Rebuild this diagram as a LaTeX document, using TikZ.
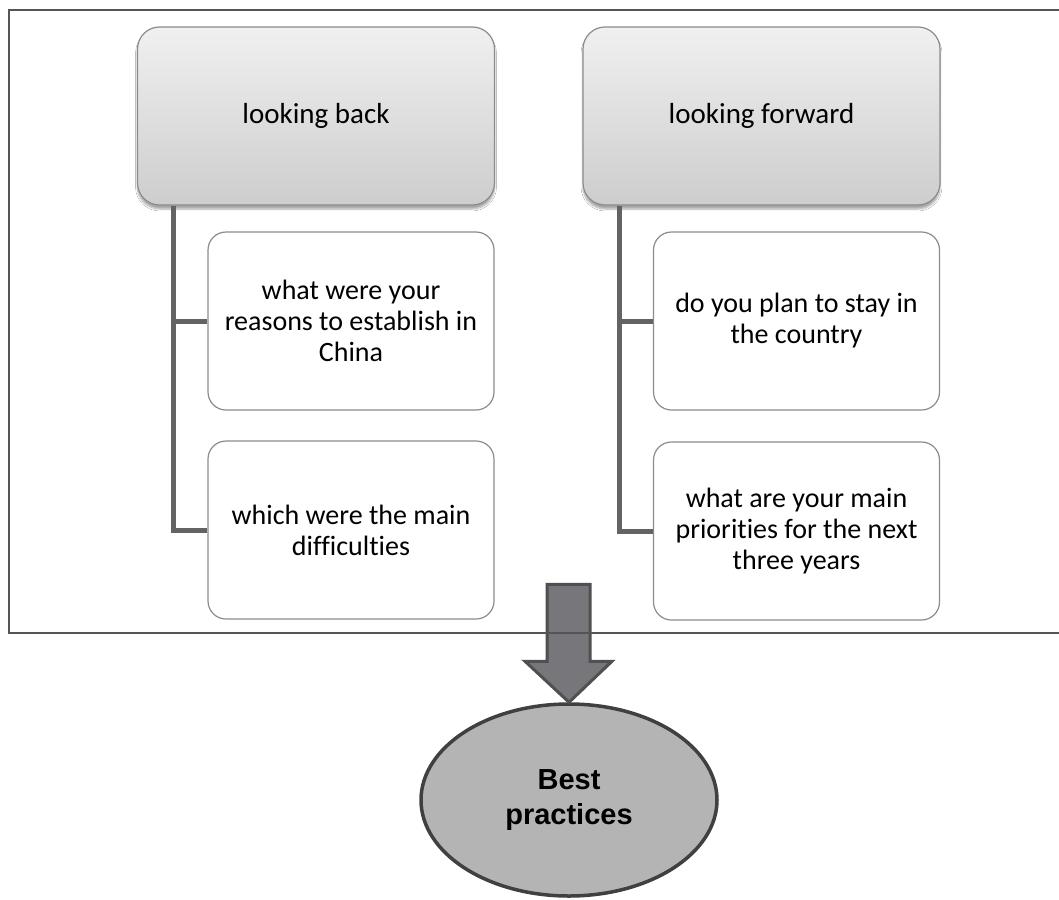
\documentclass[tikz,border=0pt]{standalone}
\usepackage{fontspec}
\setmainfont{Carlito}[Ligatures=NoCommon]
\newfontfamily\arialbold{Liberation Sans}[BoldFont=* Bold]
\usetikzlibrary{shapes.geometric,shadows.blur}
\definecolor{framec}{HTML}{555555}
\definecolor{connc}{HTML}{636363}
\definecolor{boxborder}{HTML}{8C8C8C}
\definecolor{headtop}{HTML}{F0F0F0}
\definecolor{headbot}{HTML}{CDCDCD}
\definecolor{arrowfill}{HTML}{77777B}
\definecolor{arrowedge}{HTML}{505050}
\definecolor{bpfill}{HTML}{B4B4B4}
\definecolor{bpedge}{HTML}{404040}
\tikzset{
  headbox/.style={draw=boxborder, line width=1.2pt, rounded corners=22pt,
    top color=headtop, bottom color=headbot, inner sep=0pt,
    minimum width=357pt, minimum height=178pt, align=center,
    font=\fontsize{29}{33}\selectfont,
    blur shadow={shadow xshift=0pt, shadow yshift=-4pt, shadow opacity=35, shadow blur steps=6}},
  childbox/.style={draw=boxborder, line width=1.2pt, rounded corners=18pt,
    fill=white, inner sep=0pt, minimum width=286pt, minimum height=178pt,
    align=center, font=\fontsize{28}{31}\selectfont},
  conn/.style={draw=connc, line width=5pt},
  frameline/.style={draw=framec, line width=1.6pt},
  blockarrow/.style={fill=arrowfill, draw=arrowedge, line width=3pt, line join=miter},
  bpnode/.style={ellipse, fill=bpfill, draw=bpedge, line width=3.5pt,
    minimum width=296pt, minimum height=192pt, inner sep=0pt, align=center,
    font=\arialbold\bfseries\fontsize{29}{35}\selectfont}
}
\begin{document}
\begin{tikzpicture}[x=1pt,y=-1pt]
\useasboundingbox (0,0) rectangle (1059,899);
\fill[white] (0,0) rectangle (1059,899);

% header boxes
\node[headbox] (hl) at (316,116) {looking back};
\node[headbox] (hr) at (761.5,116) {looking forward};

% child boxes
\node[childbox] (l1) at (351,321) {what were your\\reasons to establish in\\China};
\node[childbox] (l2) at (351,530) {which were the main\\difficulties};
\node[childbox] (r1) at (796.5,321) {do you plan to stay in\\the country};
\node[childbox] (r2) at (796.5,531) {what are your main\\priorities for the next\\three years};

% connectors
\coordinate (xl) at (173,0);
\coordinate (xr) at (619,0);
\draw[conn] (hl.south -| xl) |- (l2.west);
\draw[conn] (xl |- l1.west) -- (l1.west);
\draw[conn] (hr.south -| xr) |- (r2.west);
\draw[conn] (xr |- r1.west) -- (r1.west);

% best practices
\node[bpnode] (bp) at (569,800) {Best\\practices};

% block arrow
\draw[blockarrow] ([shift={(-22,-118)}]bp.north) -- ([shift={(21,-118)}]bp.north)
  -- ([shift={(21,-41)}]bp.north) -- ([shift={(43,-41)}]bp.north)
  -- (bp.north) -- ([shift={(-44,-41)}]bp.north)
  -- ([shift={(-22,-41)}]bp.north) -- cycle;

% frame
\draw[frameline] (1059,10) -- (9,10) -- (9,633) -- (1059,633);
\end{tikzpicture}
\end{document}
